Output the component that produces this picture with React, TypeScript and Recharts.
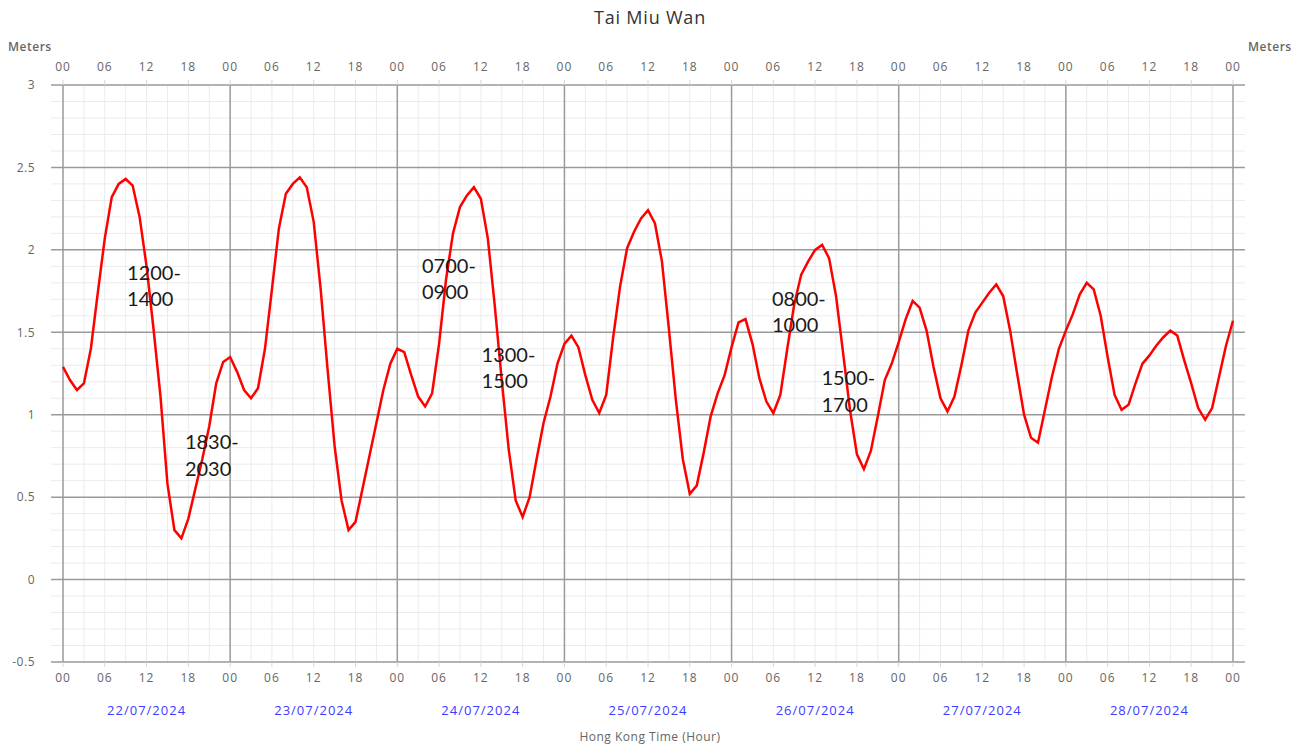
import React from "react";
import {
  LineChart,
  Line,
  XAxis,
  YAxis,
  ReferenceLine,
  ReferenceDot,
} from "recharts";

// predicted tide height (m), hourly from 22/07/2024 00:00 to 29/07/2024 00:00
const levels = [
  1.29, 1.21, 1.15, 1.19, 1.4, 1.74, 2.07, 2.32, 2.4, 2.43, 2.39, 2.2, 1.9, 1.52, 1.11, 0.58,
  0.3, 0.25, 0.37, 0.55, 0.73, 0.93, 1.19, 1.32,
  1.35, 1.26, 1.15, 1.1, 1.16, 1.4, 1.76, 2.13, 2.34, 2.4, 2.44, 2.38, 2.17, 1.76, 1.27, 0.81,
  0.48, 0.3, 0.35, 0.55, 0.75, 0.95, 1.15, 1.31,
  1.4, 1.38, 1.24, 1.11, 1.05, 1.13, 1.43, 1.82, 2.1, 2.26, 2.33, 2.38, 2.31, 2.07, 1.66, 1.21,
  0.79, 0.48, 0.38, 0.5, 0.73, 0.95, 1.11, 1.31,
  1.43, 1.48, 1.41, 1.24, 1.09, 1.01, 1.12, 1.47, 1.78, 2.01, 2.11, 2.19, 2.24, 2.16, 1.93, 1.52,
  1.09, 0.73, 0.52, 0.57, 0.77, 0.99, 1.13, 1.24,
  1.41, 1.56, 1.58, 1.43, 1.22, 1.08, 1.01, 1.12, 1.4, 1.67, 1.85, 1.93, 2.0, 2.03, 1.95, 1.72,
  1.38, 1.03, 0.76, 0.67, 0.78, 0.99, 1.21, 1.31,
  1.44, 1.58, 1.69, 1.65, 1.51, 1.29, 1.1, 1.02, 1.11, 1.3, 1.51, 1.62, 1.68, 1.74, 1.79, 1.72,
  1.51, 1.25, 1.0, 0.86, 0.83, 1.03, 1.23, 1.4,
  1.51, 1.61, 1.73, 1.8, 1.76, 1.6, 1.35, 1.12, 1.03, 1.06, 1.19, 1.31, 1.36, 1.42, 1.47, 1.51,
  1.48, 1.33, 1.19, 1.04, 0.97, 1.04, 1.23, 1.42,
  1.57,
];

const dates = [
  "22/07/2024",
  "23/07/2024",
  "24/07/2024",
  "25/07/2024",
  "26/07/2024",
  "27/07/2024",
  "28/07/2024",
];

const yTicks = [-0.5, 0, 0.5, 1, 1.5, 2, 2.5, 3];

// hand-written notes on the chart (hour of week, metres)
const notes = [
  { h: 9.2, m: 1.82, lines: ["1200-", "1400"] },
  { h: 17.5, m: 0.79, lines: ["1830-", "2030"] },
  { h: 51.55, m: 1.86, lines: ["0700-", "0900"] },
  { h: 60.1, m: 1.32, lines: ["1300-", "1500"] },
  { h: 101.8, m: 1.66, lines: ["0800-", "1000"] },
  { h: 108.9, m: 1.18, lines: ["1500-", "1700"] },
];

const totalHours = dates.length * 24;
const hourTicks = Array.from({ length: totalHours / 6 + 1 }, (_, i) => i * 6);
const minorHours = Array.from({ length: totalHours / 3 + 1 }, (_, i) => i * 3).filter((h) => h % 24 !== 0);
const dayLines = Array.from({ length: dates.length + 1 }, (_, i) => i * 24);
const dateTicks = dates.map((_, i) => i * 24 + 12);
const minorLevels = Array.from({ length: 36 }, (_, i) => Math.round((i * 0.1 - 0.5) * 10) / 10).filter(
  (v) => !yTicks.includes(v)
);

const data = levels.map((v, h) => ({ h, v }));

const FONT = "'Open Sans', sans-serif";
const EXT = 1.72; // horizontal grid lines run a little past the plot edges

const NoteText = (props: any) => {
  const { viewBox, lines } = props;
  return (
    <text x={viewBox.x} y={viewBox.y} fontFamily="Lato, sans-serif" fontSize={20} fill="#1a1a1a">
      {lines.map((t: string, i: number) => (
        <tspan key={i} x={viewBox.x} dy={i === 0 ? 0 : 26.5}>
          {t}
        </tspan>
      ))}
    </text>
  );
};

const hourLabel = (h: number) => String(h % 24).padStart(2, "0");

export default function App() {
  const tickStyle = { fill: "#666", fontSize: 12, fontFamily: FONT, letterSpacing: 1 };
  const unitStyle = {
    position: "absolute" as const,
    top: 38,
    fontFamily: FONT,
    fontSize: 12,
    fontWeight: 600,
    letterSpacing: 0.5,
    color: "#666",
  };
  return (
    <div style={{ position: "absolute", left: 0, top: 0, width: 1300, height: 749, background: "#fff" }}>
      <div
        style={{
          position: "absolute",
          top: 5,
          width: 1300,
          textAlign: "center",
          fontFamily: FONT,
          fontSize: 18,
          letterSpacing: 0.8,
          color: "#333",
        }}
      >
        Tai Miu Wan
      </div>
      <div style={{ ...unitStyle, left: 8 }}>Meters</div>
      <div style={{ ...unitStyle, left: 1248 }}>Meters</div>
      <div
        style={{
          position: "absolute",
          top: 728,
          width: 1300,
          textAlign: "center",
          fontFamily: FONT,
          fontSize: 12,
          letterSpacing: 0.5,
          color: "#666",
        }}
      >
        Hong Kong Time (Hour)
      </div>
      <LineChart width={1300} height={749} data={data} margin={{ top: 60, right: 27, bottom: 27, left: 23 }}>
        <XAxis
          xAxisId="t"
          orientation="top"
          dataKey="h"
          type="number"
          domain={[0, totalHours]}
          ticks={hourTicks}
          tickFormatter={hourLabel}
          height={25}
          axisLine={false}
          tickSize={5}
          tickMargin={9}
          tickLine={{ stroke: "#ccd6eb" }}
          tick={tickStyle}
          interval={0}
        />
        <XAxis
          xAxisId="b"
          dataKey="h"
          type="number"
          domain={[0, totalHours]}
          ticks={hourTicks}
          tickFormatter={hourLabel}
          height={25}
          axisLine={false}
          tickSize={5}
          tickMargin={6}
          tickLine={{ stroke: "#ccd6eb" }}
          tick={tickStyle}
          interval={0}
        />
        <XAxis
          xAxisId="d"
          dataKey="h"
          type="number"
          domain={[0, totalHours]}
          ticks={dateTicks}
          tickFormatter={(h: number) => dates[Math.floor(h / 24)]}
          height={35}
          axisLine={false}
          tickLine={false}
          tickSize={0}
          tickMargin={19}
          tick={{ fill: "#3b3bff", fontSize: 13, fontFamily: FONT, letterSpacing: 1 }}
          interval={0}
        />
        <YAxis
          yAxisId="l"
          domain={[-0.5, 3]}
          ticks={yTicks}
          width={40}
          axisLine={false}
          tickLine={false}
          tickSize={0}
          tickMargin={28}
          tick={{ fill: "#666", fontSize: 12, fontFamily: FONT, letterSpacing: 0.5 }}
          interval={0}
        />
        <YAxis
          yAxisId="r"
          orientation="right"
          domain={[-0.5, 3]}
          ticks={yTicks}
          width={40}
          axisLine={false}
          tickLine={false}
          tickSize={0}
          tickMargin={15}
          tick={{ fill: "#666", fontSize: 12, fontFamily: FONT, letterSpacing: 0.5 }}
          interval={0}
        />
        {minorLevels.map((v) => (
          <ReferenceLine
            key={`mh${v}`}
            xAxisId="b"
            yAxisId="l"
            segment={[{ x: -EXT, y: v }, { x: totalHours + EXT, y: v }]}
            ifOverflow="visible"
            stroke="#ebebeb"
            strokeWidth={1}
          />
        ))}
        {minorHours.map((h) => (
          <ReferenceLine key={`mv${h}`} xAxisId="b" yAxisId="l" x={h} stroke="#ebebeb" strokeWidth={1} />
        ))}
        {yTicks.map((v) => (
          <ReferenceLine
            key={`h${v}`}
            xAxisId="b"
            yAxisId="l"
            segment={[{ x: -EXT, y: v }, { x: totalHours + EXT, y: v }]}
            ifOverflow="visible"
            stroke="#9a9a9a"
            strokeWidth={1.5}
          />
        ))}
        {dayLines.map((h) => (
          <ReferenceLine key={`d${h}`} xAxisId="b" yAxisId="l" x={h} stroke="#9a9a9a" strokeWidth={1.5} />
        ))}
        <Line
          xAxisId="b"
          yAxisId="l"
          type="linear"
          dataKey="v"
          stroke="#ff0000"
          strokeWidth={2.5}
          dot={false}
          isAnimationActive={false}
        />
        {notes.map((n, i) => (
          <ReferenceDot
            key={`n${i}`}
            xAxisId="b"
            yAxisId="l"
            x={n.h}
            y={n.m}
            r={0}
            fill="none"
            stroke="none"
            ifOverflow="visible"
            label={<NoteText lines={n.lines} />}
          />
        ))}
      </LineChart>
    </div>
  );
}
